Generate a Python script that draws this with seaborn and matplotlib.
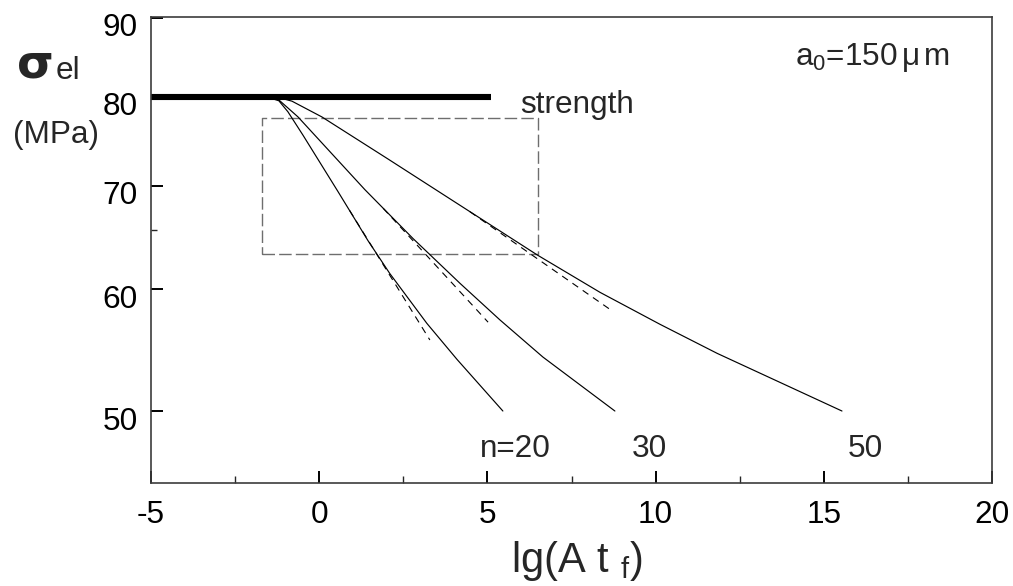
import matplotlib
matplotlib.use("Agg")
import matplotlib.pyplot as plt
import matplotlib.transforms as mtransforms
from matplotlib.ticker import FixedLocator, FixedFormatter, NullFormatter
import pandas as pd
import seaborn as sns

# Elastic stress vs. lg(A t_f) for three creep exponents n (a0 = 150 um)
n20_x = [-1.6, -1.2, -0.93, -0.48, 0.56, 1.45, 2.10, 3.20, 4.10, 5.46]
n20_y = [80.0, 79.5, 78.2, 75.5, 69.4, 64.5, 61.4, 57.0, 54.0, 50.0]

n30_x = [-1.6, -1.2, -0.63, 1.36, 2.79, 4.19, 5.37, 6.65, 8.79]
n30_y = [80.0, 79.6, 77.6, 69.6, 64.7, 60.5, 57.3, 54.2, 50.0]

n50_x = [-1.31, -0.81, 0.08, 2.05, 4.04, 6.50, 8.35, 10.13, 11.83, 15.54]
n50_y = [80.0, 79.45, 77.6, 72.86, 68.32, 63.10, 59.70, 56.92, 54.50, 50.0]

# straight-line approximations (dashed)
t20_x = [0.90, 3.29]
t20_y = [67.5, 55.6]
t30_x = [1.90, 5.02]
t30_y = [67.7, 57.1]
t50_x = [4.48, 8.64]
t50_y = [67.35, 58.21]

# strength level
strength_x = [-5.0, 5.1]
strength_y = [80.0, 80.0]

# highlighted window
box_x = [-1.69, 6.51]
box_y = [63.19, 77.42]

n_labels = ["n=20", "30", "50"]
n_label_x = [4.78, 9.30, 15.72]
n_label_y = 46.65

xticks = [-5, 0, 5, 10, 15, 20]
xtick_labels = ["-5", "0", "5", "10", "15", "20"]
xminor = [-2.5, 2.5, 7.5, 12.5, 17.5]
yticks = [50, 60, 70, 80, 90]
ytick_labels = ["50", "60", "70", "80", "90"]
yminor = [65.5]

sns.set_theme(style="white")
plt.rcParams["font.family"] = ["Liberation Sans", "DejaVu Sans"]
plt.rcParams["axes.unicode_minus"] = False
plt.rcParams["mathtext.fontset"] = "custom"
plt.rcParams["mathtext.rm"] = "Liberation Sans"
plt.rcParams["mathtext.it"] = "Liberation Sans"
plt.rcParams["lines.scale_dashes"] = False

W, H = 1013, 586
fig = plt.figure(figsize=(W / 100, H / 100), dpi=100)
ax = fig.add_axes([151 / W, (H - 483) / H, 841 / W, 466 / H])

curves = pd.concat([
    pd.DataFrame({"lg": n20_x, "sigma": n20_y, "n": 20}),
    pd.DataFrame({"lg": n30_x, "sigma": n30_y, "n": 30}),
    pd.DataFrame({"lg": n50_x, "sigma": n50_y, "n": 50}),
])
tangents = pd.concat([
    pd.DataFrame({"lg": t20_x, "sigma": t20_y, "n": 20}),
    pd.DataFrame({"lg": t30_x, "sigma": t30_y, "n": 30}),
    pd.DataFrame({"lg": t50_x, "sigma": t50_y, "n": 50}),
])
box = pd.DataFrame({
    "lg": [box_x[0], box_x[1], box_x[1], box_x[0], box_x[0]],
    "sigma": [box_y[0], box_y[0], box_y[1], box_y[1], box_y[0]],
})

sns.lineplot(data=box, x="lg", y="sigma", sort=False, estimator=None,
             color="#6e6e6e", lw=1.0, linestyle=(0, (9, 3)), ax=ax)
sns.lineplot(data=tangents, x="lg", y="sigma", units="n", estimator=None,
             sort=False, color="black", lw=0.8, linestyle=(0, (5, 4)), ax=ax)
sns.lineplot(data=curves, x="lg", y="sigma", units="n", estimator=None,
             sort=False, color="black", lw=0.85, ax=ax)
sns.lineplot(x=strength_x, y=strength_y, color="black", lw=4.4,
             solid_capstyle="butt", ax=ax)

ax.set_yscale("log")
ax.set_xlim(-5, 20)
ax.set_ylim(44.9, 90.1)
ax.set_xlabel("")
ax.set_ylabel("")

ax.xaxis.set_major_locator(FixedLocator(xticks))
ax.xaxis.set_major_formatter(FixedFormatter(xtick_labels))
ax.xaxis.set_minor_locator(FixedLocator(xminor))
ax.xaxis.set_minor_formatter(NullFormatter())
ax.yaxis.set_major_locator(FixedLocator(yticks))
ax.yaxis.set_major_formatter(FixedFormatter(ytick_labels))
ax.yaxis.set_minor_locator(FixedLocator(yminor))
ax.yaxis.set_minor_formatter(NullFormatter())

ax.tick_params(axis="x", which="major", direction="in", length=9, width=1.4,
               bottom=True, top=False, pad=12, labelsize=22.7, colors="black")
ax.tick_params(axis="x", which="minor", direction="in", length=5, width=1.0,
               bottom=True, top=False)
ax.tick_params(axis="y", which="major", direction="in", length=8.5, width=1.4,
               left=True, right=False, pad=9.5, labelsize=22.7, colors="black")
ax.tick_params(axis="y", which="minor", direction="in", length=4.5, width=1.0,
               left=True, right=False)

shift = mtransforms.ScaledTranslation(0, -0.07, fig.dpi_scale_trans)
for tick in ax.yaxis.get_major_ticks():
    tick.label1.set_transform(tick.label1.get_transform() + shift)

for side in ["left", "bottom", "right", "top"]:
    ax.spines[side].set_visible(True)
    ax.spines[side].set_color("#3c3c3c")
    ax.spines[side].set_linewidth(1.2)

# annotations inside the axes
ax.text(5.97, 78.04, "strength", fontsize=22.7, ha="left", va="baseline")
for lab, lx in zip(n_labels, n_label_x):
    ax.text(lx, n_label_y, lab, fontsize=22.7, ha="left", va="baseline")

fig.text(795 / W, 1 - 65 / H, r"a$_\mathregular{0}$=150$\,$μ$\,$m",
         fontsize=22.7, ha="left", va="baseline")

# axis titles
fig.text(17 / W, 1 - 77 / H, "σ", fontsize=34, fontweight="bold",
         ha="left", va="baseline", family=["DejaVu Sans"])
fig.text(56 / W, 1 - 79 / H, "el", fontsize=22.7, ha="left", va="baseline")
fig.text(13 / W, 1 - 143 / H, "(MPa)", fontsize=22.7, ha="left", va="baseline")
fig.text(577 / W, 1 - 572 / H, r"lg(A t $_\mathregular{f}$)", fontsize=30,
         ha="center", va="baseline")

fig.savefig("out.png", dpi=100)
